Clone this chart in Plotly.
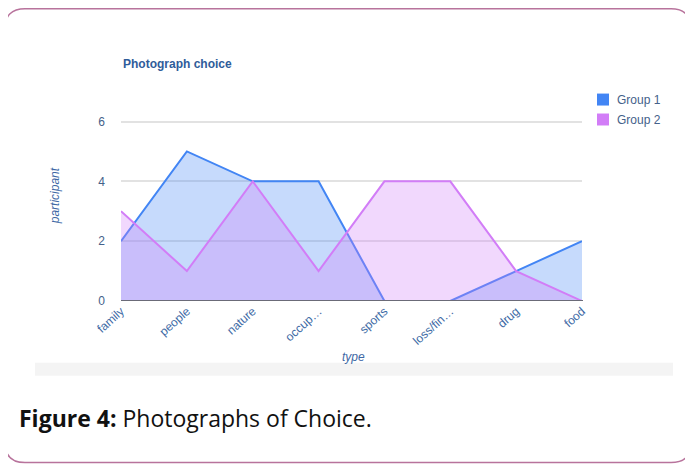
import plotly.graph_objects as go

categories = ["family", "people", "nature", "occup…", "sports", "loss/fin…", "drug", "food"]
group1 = [2, 5, 4, 4, 0, 0, 1, 2]
group2 = [3, 1, 4, 1, 4, 4, 1, 0]
y_ticks = [0, 2, 4, 6]
series_names = ["Group 1", "Group 2"]

OFF = 8  # page body margin in the browser
YMAX = 6.05
W, H = 693 - OFF, 465 - OFF
L, R = 121 - OFF, 582 - OFF
B = 301 - OFF
T = B - 30 * YMAX  # 30 px per unit


def px(x):
    return (x - OFF - L) / (R - L)


def py(y):
    return (B - (y - OFF)) / (B - T)


BLUE = "#4285F4"
PINK = "#D27DF7"
TICK = "#44618a"
AXT = "#3e68a5"

fig = go.Figure()
fig.add_trace(go.Scatter(x=list(range(len(categories))), y=group1, mode="lines",
                         line=dict(color=BLUE, width=2), fill="tozeroy",
                         fillcolor="rgba(66,133,244,0.3)", showlegend=False, hoverinfo="skip"))
fig.add_trace(go.Scatter(x=list(range(len(categories))), y=group2, mode="lines",
                         line=dict(color=PINK, width=2), fill="tozeroy",
                         fillcolor="rgba(210,125,247,0.3)", showlegend=False, hoverinfo="skip"))

shapes = []
# rounded border
r = 20
x0, y0, x1, y1 = 5, 8, 691, 463
path = (f"M {px(x0+r)},{py(y0)} L {px(x1-r)},{py(y0)} Q {px(x1)},{py(y0)} {px(x1)},{py(y0+r)} "
        f"L {px(x1)},{py(y1-r)} Q {px(x1)},{py(y1)} {px(x1-r)},{py(y1)} "
        f"L {px(x0+r)},{py(y1)} Q {px(x0)},{py(y1)} {px(x0)},{py(y1-r)} "
        f"L {px(x0)},{py(y0+r)} Q {px(x0)},{py(y0)} {px(x0+r)},{py(y0)} Z")
shapes.append(dict(type="path", xref="paper", yref="paper", path=path,
                   line=dict(color="#b8739c", width=1.5), layer="below"))
# grey band below chart
shapes.append(dict(type="rect", xref="paper", yref="paper", x0=px(35), x1=px(673),
                   y0=py(376), y1=py(363), fillcolor="#f4f4f4", line=dict(width=0), layer="below"))
# baseline
shapes.append(dict(type="line", xref="paper", yref="y", x0=0, x1=px(583), y0=0, y1=0,
                   line=dict(color="#6b6b78", width=2), layer="above"))
# legend squares
for i, (name, col) in enumerate(zip(series_names, [BLUE, PINK])):
    yc = 99 + 20 * i
    shapes.append(dict(type="rect", xref="paper", yref="paper", x0=px(597), x1=px(609),
                       y0=py(yc + 6), y1=py(yc - 6), fillcolor=col, line=dict(width=0)))

annotations = [
    dict(text="<b>Photograph choice</b>", x=px(121), y=py(63), xref="paper", yref="paper",
         xanchor="left", yanchor="middle", showarrow=False,
         font=dict(family="Liberation Sans, Arial", size=12, color="#2f5c9a")),
    dict(text="<i>participant</i>", x=px(55), y=py(196), xref="paper", yref="paper",
         textangle=-90, xanchor="center", yanchor="middle", showarrow=False,
         font=dict(family="Liberation Sans, Arial", size=12, color=AXT)),
    dict(text="<i>type</i>", x=px(353), y=py(357), xref="paper", yref="paper",
         xanchor="center", yanchor="middle", showarrow=False,
         font=dict(family="Liberation Sans, Arial", size=12, color=AXT)),
    dict(text="<b>Figure 4:</b> Photographs of Choice.", x=px(17), y=py(418), xref="paper",
         yref="paper", xanchor="left", yanchor="middle", showarrow=False,
         font=dict(family="Open Sans, Noto Sans, sans-serif", size=23, color="#111111")),
]
for i, name in enumerate(series_names):
    annotations.append(dict(text=name, x=px(615), y=py(99 + 20 * i), xref="paper", yref="paper",
                            xanchor="left", yanchor="middle", showarrow=False,
                            font=dict(family="Liberation Sans, Arial", size=12, color=TICK)))

fig.update_layout(
    width=W, height=H,
    margin=dict(l=L, r=W - R, t=T, b=H - B),
    paper_bgcolor="white", plot_bgcolor="white",
    showlegend=False,
    shapes=shapes, annotations=annotations,
    xaxis=dict(tickmode="array", tickvals=list(range(len(categories))), ticktext=categories,
               range=[0, len(categories) - 1], tickangle=-42, showgrid=False, zeroline=False,
               showline=False, ticks="",
               tickfont=dict(family="Liberation Sans, Arial", size=12, color="#3d6aa5")),
    yaxis=dict(range=[0, YMAX], tickvals=y_ticks, showgrid=True, gridcolor="#e2e2e2", gridwidth=1.5,
               zeroline=False, showline=False, ticks="", ticklabelstandoff=15,
               tickfont=dict(family="Liberation Sans, Arial", size=12, color=TICK)),
)

fig.write_html("out.html")
